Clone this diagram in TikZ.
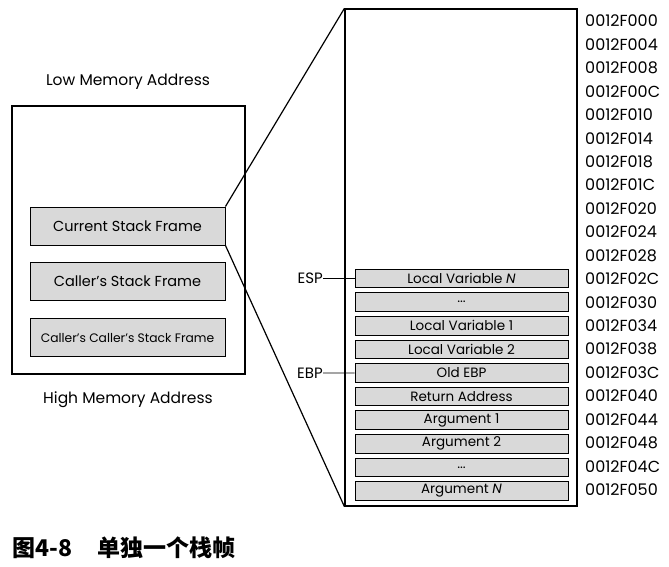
\documentclass[tikz,border=0pt]{standalone}
\usepackage{fontspec}
\setmainfont{Poppins}
\newfontfamily\cjk{Noto Sans CJK SC}
\begin{document}
\begin{tikzpicture}[x=1pt,y=-1pt,
  frame/.style={draw=black,line width=1.2pt},
  cell/.style={draw=black,line width=0.9pt,fill=black!15},
  lbl/.style={inner sep=0pt,font=\fontsize{15.5}{18}\selectfont},
  cell text/.style={inner sep=0pt,font=\fontsize{13.5}{16}\selectfont},
  addr/.style={inner sep=0pt,anchor=west,font=\fontsize{16}{18}\selectfont},
  conn/.style={draw=black,line width=1.2pt}]
\useasboundingbox (0,0) rectangle (669,566);
% left memory box
\draw[frame] (12,106) rectangle (245,374);
\node[lbl] (low) at (128,82) {Low Memory Address};
\node[lbl] (high) at (128,400) {High Memory Address};
\node[cell,minimum width=195pt,minimum height=38pt,inner sep=0pt,font=\fontsize{14.5}{17}\selectfont] (cur) at (127.5,226) {Current Stack Frame};
\node[cell,minimum width=195pt,minimum height=38pt,inner sep=0pt,font=\fontsize{14.5}{17}\selectfont] (caller) at (127.5,281.5) {Caller's Stack Frame};
\node[cell,minimum width=195pt,minimum height=38pt,inner sep=0pt,font=\fontsize{12.3}{14}\selectfont] (callercaller) at (127.5,337.5) {Caller's Caller's Stack Frame};
% right box
\node[frame,minimum width=232pt,minimum height=497pt,inner sep=0pt] (stack) at (461,257.5) {};
\draw[conn] (cur.north east) -- (stack.north west);
\draw[conn] (cur.south east) -- (stack.south west);
% rows
\foreach \i/\t in {0/{Local Variable \textit{N}},1/{...},2/{Local Variable 1},3/{Local Variable 2},4/{Old EBP},5/{Return Address},6/{Argument 1},7/{Argument 2},8/{...},9/{Argument \textit{N}}}{
  \node[cell,cell text,minimum width=213pt,minimum height=18.5pt] (r\i) at (461.5,278.5+23.6*\i) {\t};
}
% addresses
\foreach \i/\a in {0/0012F000,1/0012F004,2/0012F008,3/0012F00C,4/0012F010,5/0012F014,6/0012F018,7/0012F01C,8/0012F020,9/0012F024,10/0012F028,11/0012F02C,12/0012F030,13/0012F034,14/0012F038,15/0012F03C,16/0012F040,17/0012F044,18/0012F048,19/0012F04C,20/0012F050}{
  \node[addr] (a\i) at (585,21+23.44*\i) {\a};
}
% pointers
\node[lbl,anchor=east,font=\fontsize{15}{17}\selectfont] (esp) at (323,278.5) {ESP};
\draw[line width=0.8pt] (esp.east) -- (r0.west);
\node[lbl,anchor=east,font=\fontsize{15}{17}\selectfont] (ebp) at (323,372.9) {EBP};
\draw[line width=0.8pt] (ebp.east) -- (r4.west);
% caption
\node[inner sep=0pt,anchor=west,font=\cjk\bfseries\fontsize{23}{26}\selectfont] (cap) at (12,548) {图4-8\hspace{1.1em}单独一个栈帧};
\end{tikzpicture}
\end{document}
